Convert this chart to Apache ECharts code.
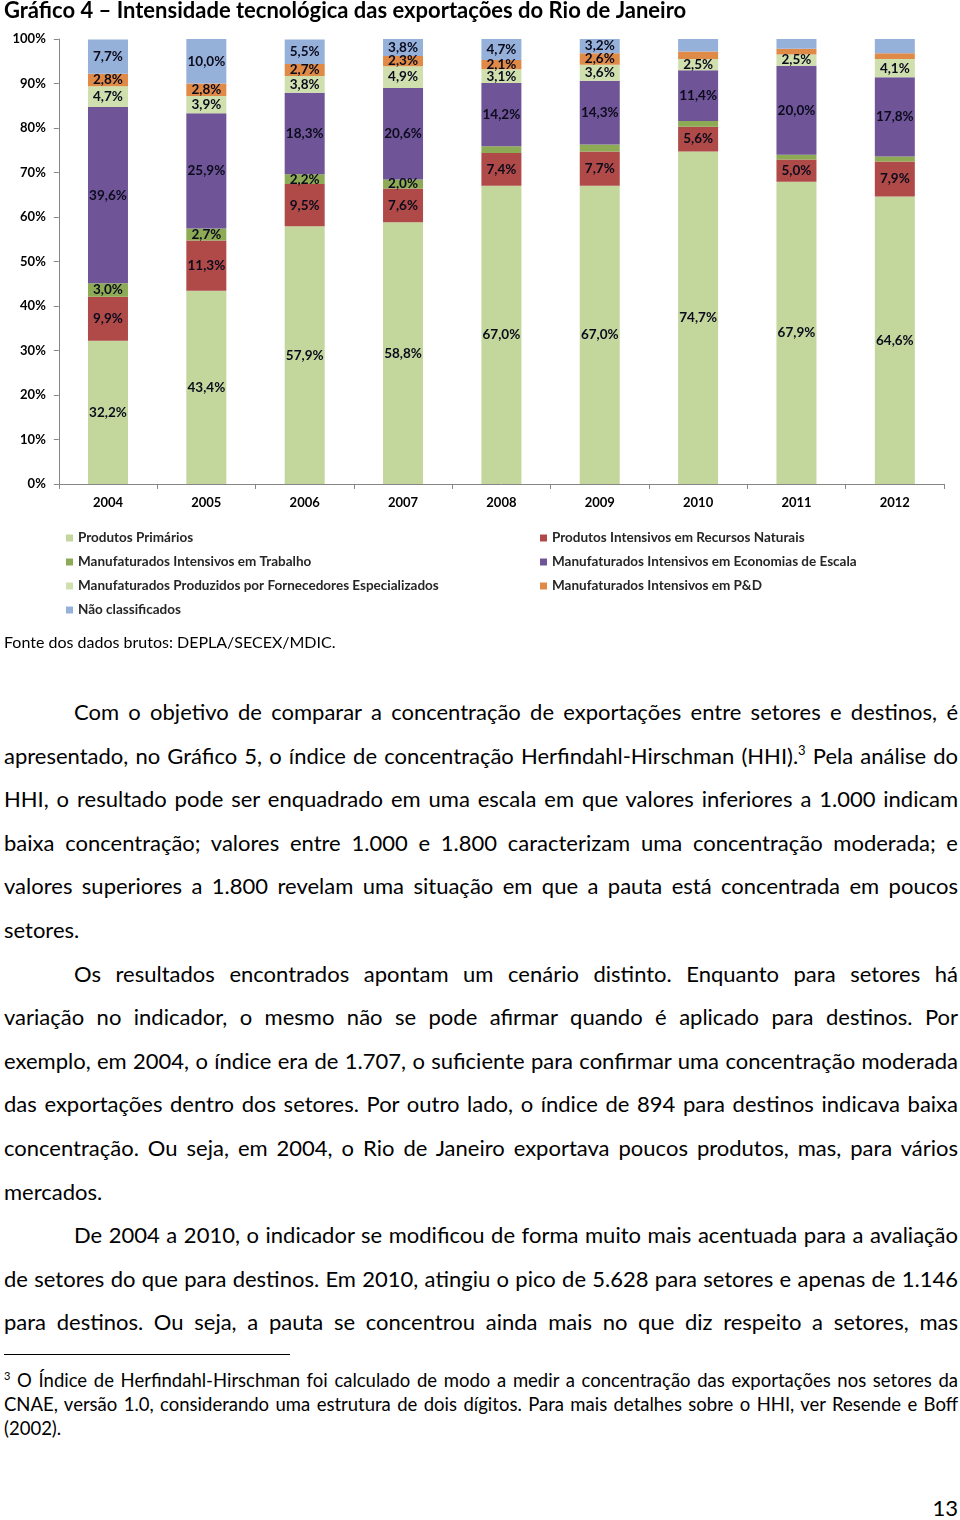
<!DOCTYPE html>
<html>
<head>
<meta charset="utf-8">
<script src="https://cdn.jsdelivr.net/npm/echarts@6/dist/echarts.min.js"></script>
<style>
  html, body { margin: 0; padding: 0; background: #fff; }
  body { width: 960px; height: 1520px; position: relative; overflow: hidden; font-family: Lato, "Noto Sans", sans-serif; color: #000; }
  #chart { position: absolute; left: 0; top: 0; width: 960px; height: 660px; }
  .src { position: absolute; left: 4px; top: 632px; font-size: 16px; line-height: 20px; white-space: nowrap; }
  .para { position: absolute; left: 4px; width: 954px; top: 690px; font-size: 22px; }
  .ln { height: 43.6px; line-height: 43.6px; white-space: nowrap; text-align: justify; text-align-last: justify; }
  .ln.ind { padding-left: 70px; }
  .ln.end { text-align: left; text-align-last: left; }
  sup { font-size: 13px; line-height: 0; vertical-align: 9px; }
  .rule { position: absolute; left: 4px; top: 1354px; width: 286px; height: 0; border-top: 1.5px solid #000; }
  .foot { position: absolute; left: 4px; width: 954px; top: 1368px; font-size: 18.5px; }
  .foot .ln { height: 24px; line-height: 24px; }
  .foot sup { font-size: 11px; vertical-align: 7px; }
  .pg { position: absolute; right: 2px; top: 1494px; font-size: 22px; line-height: 28px; }
</style>
</head>
<body>
<div id="chart"></div>
<div class="src">Fonte dos dados brutos: DEPLA/SECEX/MDIC.</div>
<div class="para">
  <div class="ln ind">Com o objetivo de comparar a concentração de exportações entre setores e destinos, é</div>
  <div class="ln">apresentado, no Gráfico 5, o índice de concentração Herfindahl-Hirschman (HHI).<sup>3</sup> Pela análise do</div>
  <div class="ln">HHI, o resultado pode ser enquadrado em uma escala em que valores inferiores a 1.000 indicam</div>
  <div class="ln">baixa concentração; valores entre 1.000 e 1.800 caracterizam uma concentração moderada; e</div>
  <div class="ln">valores superiores a 1.800 revelam uma situação em que a pauta está concentrada em poucos</div>
  <div class="ln end">setores.</div>
  <div class="ln ind">Os resultados encontrados apontam um cenário distinto. Enquanto para setores há</div>
  <div class="ln">variação no indicador, o mesmo não se pode afirmar quando é aplicado para destinos. Por</div>
  <div class="ln">exemplo, em 2004, o índice era de 1.707, o suficiente para confirmar uma concentração moderada</div>
  <div class="ln">das exportações dentro dos setores. Por outro lado, o índice de 894 para destinos indicava baixa</div>
  <div class="ln">concentração. Ou seja, em 2004, o Rio de Janeiro exportava poucos produtos, mas, para vários</div>
  <div class="ln end">mercados.</div>
  <div class="ln ind">De 2004 a 2010, o indicador se modificou de forma muito mais acentuada para a avaliação</div>
  <div class="ln">de setores do que para destinos. Em 2010, atingiu o pico de 5.628 para setores e apenas de 1.146</div>
  <div class="ln">para destinos. Ou seja, a pauta se concentrou ainda mais no que diz respeito a setores, mas</div>
</div>
<div class="rule"></div>
<div class="foot">
  <div class="ln"><sup>3</sup> O Índice de Herfindahl-Hirschman foi calculado de modo a medir a concentração das exportações nos setores da</div>
  <div class="ln">CNAE, versão 1.0, considerando uma estrutura de dois dígitos. Para mais detalhes sobre o HHI, ver Resende e Boff</div>
  <div class="ln end">(2002).</div>
</div>
<div class="pg">13</div>
<script>
const years = ['2004', '2005', '2006', '2007', '2008', '2009', '2010', '2011', '2012'];
const primarios        = [32.2, 43.4, 57.9, 58.8, 67.0, 67.0, 74.7, 67.9, 64.6];
const recursosNaturais = [9.9, 11.3, 9.5, 7.6, 7.4, 7.7, 5.6, 5.0, 7.9];
const trabalho         = [3.0, 2.7, 2.2, 2.0, 1.5, 1.6, 1.3, 1.1, 1.1];
const escala           = [39.6, 25.9, 18.3, 20.6, 14.2, 14.3, 11.4, 20.0, 17.8];
const fornecedores     = [4.7, 3.9, 3.8, 4.9, 3.1, 3.6, 2.5, 2.5, 4.1];
const pd               = [2.8, 2.8, 2.7, 2.3, 2.1, 2.6, 1.7, 1.3, 1.3];
const naoClassificados = [7.7, 10.0, 5.5, 3.8, 4.7, 3.2, 2.8, 2.2, 3.2];
const seriesNames = [
  'Produtos Primários',
  'Produtos Intensivos em Recursos Naturais',
  'Manufaturados Intensivos em Trabalho',
  'Manufaturados Intensivos em Economias de Escala',
  'Manufaturados Produzidos por Fornecedores Especializados',
  'Manufaturados Intensivos em P&D',
  'Não classificados'
];
// years whose segment carries no data label in the original
const unlabeledTrabalho = ['2008', '2009', '2010', '2011', '2012'];
const unlabeledPD = ['2010', '2011', '2012'];
const unlabeledNC = ['2010', '2011', '2012'];
const yTicks = [0, 10, 20, 30, 40, 50, 60, 70, 80, 90, 100];

const colors = ['#C3D69B', '#AF4A48', '#8DAA55', '#6F5597', '#CFDFAD', '#E08A48', '#95B1DA'];
const FONT = 'Lato, "Noto Sans", sans-serif';

function fmt(v) { return v.toFixed(1).replace('.', ',') + '%'; }

function makeSeries(name, values, color, hidden) {
  return {
    name: name,
    type: 'bar',
    stack: 'total',
    barWidth: 40,
    itemStyle: { color: color },
    label: {
      show: true,
      position: 'inside',
      fontFamily: FONT,
      fontWeight: 'bold',
      fontSize: 13.5,
      color: '#0b0b1c',
      formatter: function (p) { return hidden.indexOf(p.name) >= 0 ? '' : fmt(p.value); }
    },
    emphasis: { disabled: true },
    data: values
  };
}

const legendText = { fontFamily: FONT, fontWeight: 'bold', fontSize: 13.5, color: '#262626', lineHeight: 16 };

const chart = echarts.init(document.getElementById('chart'));
chart.setOption({
  animation: false,
  textStyle: { fontFamily: FONT },
  title: {
    text: 'Gráfico 4 – Intensidade tecnológica das exportações do Rio de Janeiro',
    left: 4, top: 0, padding: 0,
    textStyle: { fontFamily: FONT, fontWeight: 'bold', fontSize: 22, color: '#000' }
  },
  grid: { left: 58.8, right: 16, top: 39, bottom: 176, containLabel: false },
  legend: [
    {
      orient: 'vertical', left: 61, top: 525, itemWidth: 7, itemHeight: 7, itemGap: 8, icon: 'rect',
      data: [seriesNames[0], seriesNames[2], seriesNames[4], seriesNames[6]],
      textStyle: legendText,
      selectedMode: false
    },
    {
      orient: 'vertical', left: 535, top: 525, itemWidth: 7, itemHeight: 7, itemGap: 8, icon: 'rect',
      data: [seriesNames[1], seriesNames[3], seriesNames[5]],
      textStyle: legendText,
      selectedMode: false
    }
  ],
  xAxis: {
    type: 'category',
    data: years,
    axisLine: { lineStyle: { color: '#868686', width: 1 } },
    axisTick: { show: true, length: 5, lineStyle: { color: '#868686' } },
    axisLabel: { fontFamily: FONT, fontWeight: 'bold', fontSize: 13, color: '#000', margin: 12 }
  },
  yAxis: {
    type: 'value',
    min: yTicks[0], max: yTicks[yTicks.length - 1], interval: yTicks[1] - yTicks[0],
    splitLine: { show: false },
    axisLine: { show: true, lineStyle: { color: '#868686', width: 1 } },
    axisTick: { show: true, length: 5, lineStyle: { color: '#868686' } },
    axisLabel: { fontFamily: FONT, fontWeight: 'bold', fontSize: 13, color: '#000', margin: 13, formatter: '{value}%' }
  },
  series: [
    makeSeries(seriesNames[0], primarios, colors[0], []),
    makeSeries(seriesNames[1], recursosNaturais, colors[1], []),
    makeSeries(seriesNames[2], trabalho, colors[2], unlabeledTrabalho),
    makeSeries(seriesNames[3], escala, colors[3], []),
    makeSeries(seriesNames[4], fornecedores, colors[4], []),
    makeSeries(seriesNames[5], pd, colors[5], unlabeledPD),
    makeSeries(seriesNames[6], naoClassificados, colors[6], unlabeledNC)
  ]
});
</script>
</body>
</html>
